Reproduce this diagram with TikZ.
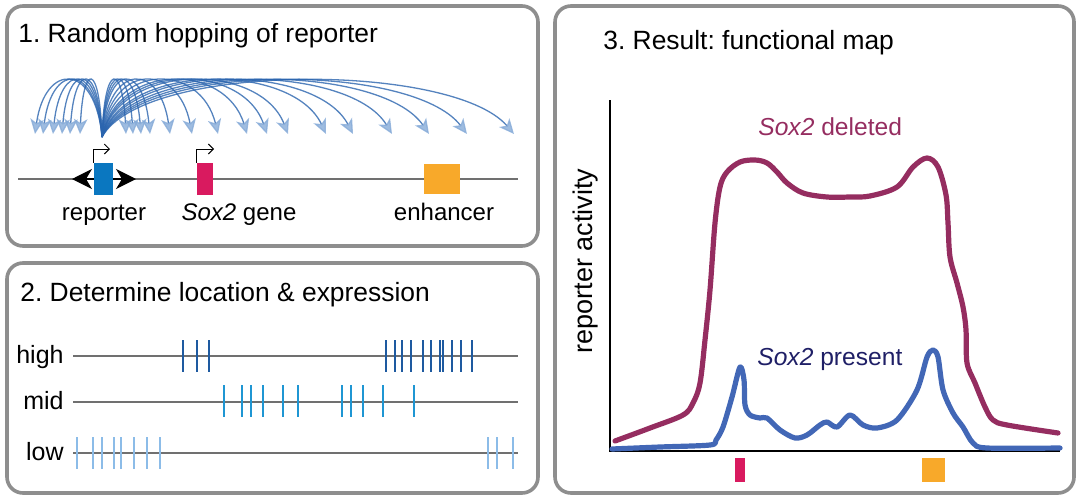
\documentclass[tikz,border=0pt]{standalone}
\usepackage{fontspec}
\setmainfont{Liberation Sans}
\usepackage{tikz}
\usetikzlibrary{arrows.meta}
\usetikzlibrary{positioning}
\frenchspacing

\definecolor{panelgray}{HTML}{8E8E8E}
\definecolor{dnagray}{HTML}{707070}
\definecolor{repblue}{HTML}{0A77C0}
\definecolor{soxpink}{HTML}{D91A5F}
\definecolor{enhorange}{HTML}{F8A92A}
\definecolor{hopblue}{HTML}{2A64AE}
\definecolor{tipblue}{HTML}{86ABD8}
\definecolor{highblue}{HTML}{1E5AA0}
\definecolor{midblue}{HTML}{1F96D3}
\definecolor{lowblue}{HTML}{8CBCE8}
\definecolor{delplum}{HTML}{952D60}
\definecolor{presblue}{HTML}{4267B6}
\definecolor{presnavy}{HTML}{1F1F66}

\tikzset{panel/.style={draw=panelgray,line width=1.8pt,rounded corners=8pt},
  ptitle/.style={anchor=base west,inner sep=0pt,font=\fontsize{13.2}{15}\selectfont},
  lbl/.style={anchor=base,inner sep=0pt,font=\fontsize{12}{14}\selectfont},
  lvl/.style={anchor=base east,inner sep=0pt,font=\fontsize{12.5}{14}\selectfont},
  gene/.style={draw=none,inner sep=0pt,minimum height=16pt},
  dna/.style={draw=dnagray,line width=1pt},
  flank/.style={draw=black,line width=0.8pt,-{Stealth[length=10pt,width=10pt,inset=3pt]}},
  prom/.style={draw=black,line width=0.5pt,-{Straight Barb[length=2.5pt,width=5pt]}},
  hopline/.style={draw=hopblue,line width=0.65pt,opacity=0.8,-{Stealth[length=7.5pt,width=6.8pt,inset=2pt,color=tipblue]}},
  hitick/.style={draw=highblue,line width=0.9pt},
  midtick/.style={draw=midblue,line width=0.9pt},
  lowtick/.style={draw=lowblue,line width=0.9pt},
  axisline/.style={draw=black,line width=0.9pt},
  curve/.style={line width=2.6pt,line cap=round,line join=round},
}

\begin{document}
\begin{tikzpicture}[x=0.5pt,y=-0.5pt]
\useasboundingbox (0,0) rectangle (1080,498);

\draw[panel] (7,6) rectangle (538,246);
\draw[panel] (7,263) rectangle (538,493);
\draw[panel] (555,6) rectangle (1074,493);

\node[ptitle] (t1) at (18,42) {1. Random hopping of reporter};
\node[ptitle] (t2) at (20,301) {2. Determine location \& expression};
\node[ptitle] (t3) at (603,49) {3. Result: functional map};

% panel 1
\coordinate (dl) at (18,179);
\coordinate (dr) at (518,179);
\draw[dna] (dl) -- (dr);
\node[gene,fill=repblue,minimum width=9.5pt] (rep) at (103.5,179) {};
\node[gene,fill=soxpink,minimum width=8pt] (sox) at (205,179) {};
\node[gene,fill=enhorange,minimum width=18pt,minimum height=15pt] (enh) at (442,179) {};
\coordinate (lt) at (72,179);
\coordinate (rt) at (136,179);
\draw[flank] (rep.west) -- (lt);
\draw[flank] (rep.east) -- (rt);
\coordinate (rp) at (110,149);
\coordinate (sp) at (214,149);
\draw[prom] (rep.north west) |- (rp);
\draw[prom] (sox.north west) |- (sp);
\node[lbl] (l1) at (104,220) {reporter};
\node[lbl] (l2) at (239,220) {\textit{Sox2} gene};
\node[lbl] (l3) at (444,220) {enhancer};

\coordinate (src) at (102,137);
\foreach \tx in {35,43,53,62,70,80,126,133,141,150,170,192,218,247,267,288,326,353,392,429,467,514}{
  \pgfmathsetmacro{\ca}{102+0.1*(\tx-102)}
  \pgfmathsetmacro{\cb}{\tx-0.15*(\tx-102)}
  \coordinate (tip) at (\tx,134);
  \draw[hopline] (src) .. controls (\ca,62) and (\cb,62) .. (tip);
}

% panel 2
\node[lvl] (hi) at (64,363) {high};
\node[lvl] (md) at (64,409) {mid};
\node[lvl] (lo) at (64,460) {low};
\coordinate (h0) at (73,356); \coordinate (h1) at (518,356);
\coordinate (m0) at (73,402); \coordinate (m1) at (518,402);
\coordinate (w0) at (73,453); \coordinate (w1) at (518,453);
\draw[dna] (h0) -- (h1);
\draw[dna] (m0) -- (m1);
\draw[dna] (w0) -- (w1);
\foreach \x in {183,197,209,386,395,402,411,423,431,440,443,452,461,472}
  \draw[hitick] (\x,340) -- (\x,372);
\foreach \x in {224,242,251,263,283,298,342,351,363,383,414}
  \draw[midtick] (\x,385) -- (\x,417);
\foreach \x in {77,93,102,114,121,134,147,160,488,497,513}
  \draw[lowtick] (\x,437) -- (\x,469);

% panel 3
\coordinate (ytop) at (610,100);
\coordinate (o) at (610,451);
\coordinate (xend) at (1060,451);
\draw[axisline] (ytop) -- (o) -- (xend);
\node[rotate=90,inner sep=0pt,font=\fontsize{13.5}{15}\selectfont] (ya) at (586,261) {reporter activity};

\draw[curve,delplum] plot[smooth,tension=0.55] coordinates {(615,441) (650,428) (683,415) (693,403) (700,383) (705,340) (710,290) (715,223) (720,187) (727,172) (740,162) (755,160) (767,163) (777,172) (787,183) (803,193) (827,197) (850,197) (870,196) (897,187) (913,167) (927,158) (938,167) (946,195) (948,223) (950,257) (957,283) (963,307) (966,330) (967,363) (975,383) (985,407) (993,420) (1007,425) (1058,433)};
\draw[curve,presblue] plot[smooth,tension=0.5] coordinates {(612,449) (660,447) (710,445) (716,440) (723,427) (732,397) (740,367) (744,380) (745,405) (750,415) (760,418) (767,418) (780,430) (795,438) (807,435) (820,425) (827,422) (837,427) (850,415) (863,425) (877,428) (897,420) (917,390) (927,357) (933,350) (938,357) (943,390) (953,413) (963,427) (973,443) (987,448) (1060,448)};

\node[anchor=base west,inner sep=0pt,text=delplum,font=\fontsize{12.3}{14}\selectfont] (del) at (758,135) {\textit{Sox2} deleted};
\node[anchor=base west,inner sep=0pt,text=presnavy,font=\fontsize{12.3}{14}\selectfont] (pre) at (757,365) {\textit{Sox2} present};

\node[gene,fill=soxpink,minimum width=5pt,minimum height=12pt] (mk1) at (740,470) {};
\node[gene,fill=enhorange,minimum width=11.5pt,minimum height=12pt] (mk2) at (933.5,470) {};
\end{tikzpicture}
\end{document}
